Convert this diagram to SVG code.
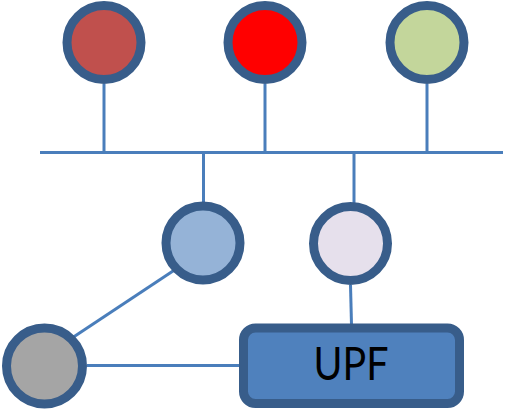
<svg xmlns="http://www.w3.org/2000/svg" width="508" height="417" viewBox="0 0 508 417">
<style>
.n{stroke:#385D8A;stroke-width:9}
.c{stroke:#4A7EBB;stroke-width:3;fill:none}
.t{font-family:Lato,"Liberation Sans",sans-serif;font-size:46px;fill:#000;text-anchor:middle}
</style>
<g id="connectors">
<line class="c" x1="40" y1="152.5" x2="503" y2="152.5"/>
<line class="c" x1="104" y1="84" x2="104" y2="152"/>
<line class="c" x1="265" y1="84" x2="265" y2="152"/>
<line class="c" x1="427" y1="84" x2="427" y2="152"/>
<line class="c" x1="203.5" y1="152" x2="203.5" y2="202"/>
<line class="c" x1="354" y1="152" x2="354" y2="203"/>
<line class="c" x1="350.5" y1="285" x2="351.5" y2="325"/>
<line class="c" x1="176" y1="269" x2="72" y2="338"/>
<line class="c" x1="87" y1="365.5" x2="241" y2="365.5"/>
</g>
<g id="node1"><circle class="n" cx="104" cy="42.5" r="37" fill="#C0504D"/></g>
<g id="node2"><circle class="n" cx="265" cy="42.5" r="37" fill="#FF0000"/></g>
<g id="node3"><circle class="n" cx="427" cy="42.5" r="37" fill="#C3D69B"/></g>
<g id="node4"><circle class="n" cx="203" cy="243" r="37" fill="#95B3D7"/></g>
<g id="node5"><circle class="n" cx="350.5" cy="243.5" r="37" fill="#E6E0EC"/></g>
<g id="node6"><circle class="n" cx="44.5" cy="366" r="38" fill="#A5A5A5"/></g>
<g id="upf"><rect class="n" x="243.5" y="328" width="216" height="75.5" rx="12" fill="#4F81BD"/>
<text class="t" x="351" y="380" textLength="75" lengthAdjust="spacingAndGlyphs">UPF</text></g>
</svg>
